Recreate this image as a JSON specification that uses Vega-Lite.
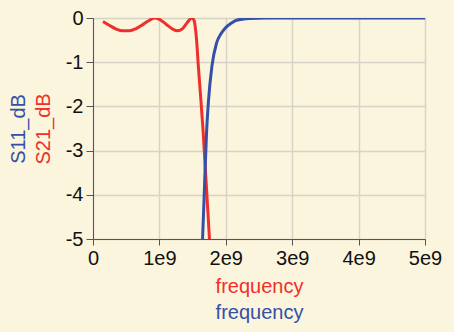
{
  "$schema": "https://vega.github.io/schema/vega-lite/v6.json",
  "width": 332,
  "height": 221,
  "autosize": {"type": "none"},
  "padding": {"left": 93, "top": 18, "right": 29, "bottom": 93},
  "background": "#fbf5dd",
  "config": {
    "font": "Liberation Sans",
    "view": {"stroke": "#555555", "strokeWidth": 1, "fill": "#fbf5dd"},
    "axis": {
      "gridColor": "#d6d3c8",
      "gridWidth": 1.5,
      "domainColor": "#555555",
      "tickColor": "#555555",
      "labelColor": "#111111",
      "labelFontSize": 20,
      "titleFontSize": 20,
      "titleFontWeight": "normal",
      "labelFlush": false,
      "labelOverlap": false
    }
  },
  "datasets": {
    "s21": [
      {"frequency": 150000000, "S21_dB": -0.08},
      {"frequency": 250000000, "S21_dB": -0.17},
      {"frequency": 350000000, "S21_dB": -0.25},
      {"frequency": 450000000, "S21_dB": -0.29},
      {"frequency": 550000000, "S21_dB": -0.29},
      {"frequency": 650000000, "S21_dB": -0.24},
      {"frequency": 750000000, "S21_dB": -0.15},
      {"frequency": 850000000, "S21_dB": -0.05},
      {"frequency": 930000000, "S21_dB": 0.0},
      {"frequency": 1000000000, "S21_dB": -0.03},
      {"frequency": 1100000000, "S21_dB": -0.14},
      {"frequency": 1200000000, "S21_dB": -0.25},
      {"frequency": 1270000000, "S21_dB": -0.29},
      {"frequency": 1350000000, "S21_dB": -0.24},
      {"frequency": 1420000000, "S21_dB": -0.1},
      {"frequency": 1490000000, "S21_dB": 0.0},
      {"frequency": 1520000000, "S21_dB": -0.05},
      {"frequency": 1540000000, "S21_dB": -0.2},
      {"frequency": 1560000000, "S21_dB": -0.5},
      {"frequency": 1587000000, "S21_dB": -1.1},
      {"frequency": 1625000000, "S21_dB": -1.86},
      {"frequency": 1660000000, "S21_dB": -2.6},
      {"frequency": 1690000000, "S21_dB": -3.37},
      {"frequency": 1720000000, "S21_dB": -4.12},
      {"frequency": 1754000000, "S21_dB": -5.0}
    ],
    "s11": [
      {"frequency": 1650000000, "S11_dB": -5.0},
      {"frequency": 1672000000, "S11_dB": -4.12},
      {"frequency": 1690000000, "S11_dB": -3.37},
      {"frequency": 1710000000, "S11_dB": -2.6},
      {"frequency": 1740000000, "S11_dB": -1.86},
      {"frequency": 1790000000, "S11_dB": -1.1},
      {"frequency": 1860000000, "S11_dB": -0.57},
      {"frequency": 1930000000, "S11_dB": -0.35},
      {"frequency": 1990000000, "S11_dB": -0.23},
      {"frequency": 2080000000, "S11_dB": -0.12},
      {"frequency": 2160000000, "S11_dB": -0.05},
      {"frequency": 2360000000, "S11_dB": -0.01},
      {"frequency": 2600000000, "S11_dB": 0.0},
      {"frequency": 5000000000, "S11_dB": 0.0}
    ]
  },
  "layer": [
    {
      "data": {"name": "s21"},
      "mark": {"type": "line", "color": "#ef2f2c", "strokeWidth": 3, "interpolate": "monotone", "clip": true},
      "encoding": {
        "x": {
          "field": "frequency", "type": "quantitative",
          "scale": {"domain": [0, 5000000000], "nice": false, "zero": false},
          "axis": {
            "orient": "bottom",
            "values": [0, 1000000000, 2000000000, 3000000000, 4000000000, 5000000000],
            "labelExpr": "datum.value == 0 ? '0' : (datum.value / 1000000000) + 'e9'",
            "tickSize": 6, "labelPadding": 3, "grid": true,
            "title": "frequency", "titleColor": "#ef2f2c", "titlePadding": 8
          }
        },
        "y": {
          "field": "S21_dB", "type": "quantitative",
          "scale": {"domain": [-5, 0], "nice": false, "zero": false},
          "axis": {
            "orient": "left",
            "values": [-5, -4, -3, -2, -1, 0],
            "labelExpr": "datum.value + ''",
            "tickSize": 7, "labelPadding": 3, "grid": true,
            "title": "S21_dB", "titleColor": "#ef2f2c", "titlePadding": 12
          }
        }
      }
    },
    {
      "data": {"name": "s11"},
      "mark": {"type": "line", "color": "#3450a8", "strokeWidth": 3, "interpolate": "monotone", "clip": true},
      "encoding": {
        "x": {
          "field": "frequency", "type": "quantitative",
          "scale": {"domain": [0, 5000000000], "nice": false, "zero": false},
          "axis": {
            "orient": "bottom", "labels": false, "ticks": false, "domain": false, "grid": false,
            "title": "frequency", "titleColor": "#3450a8", "titlePadding": 63
          }
        },
        "y": {
          "field": "S11_dB", "type": "quantitative",
          "scale": {"domain": [-5, 0], "nice": false, "zero": false},
          "axis": {
            "orient": "left", "labels": false, "ticks": false, "domain": false, "grid": false,
            "title": "S11_dB", "titleColor": "#3450a8", "titlePadding": 65
          }
        }
      }
    }
  ],
  "resolve": {"axis": {"x": "independent", "y": "independent"}, "scale": {"x": "independent", "y": "independent"}}
}
